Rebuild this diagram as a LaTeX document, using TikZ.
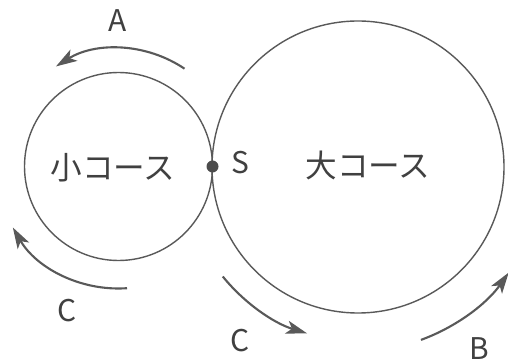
\documentclass[tikz,border=0pt]{standalone}
\usepackage{fontspec}
\setmainfont{Noto Sans CJK JP}
\usetikzlibrary{arrows.meta, positioning}

\begin{document}
\begin{tikzpicture}[
  x=0.02cm, y=0.02cm,
  course/.style={draw=black!65, line width=0.8pt},
  arr/.style={-{Stealth[length=12pt, width=7.5pt, inset=3pt]}, draw=black!65, line width=1.2pt},
  lbl/.style={text=black!75, font=\fontsize{17}{17}\selectfont, inner sep=0pt},
  jlbl/.style={text=black!75, font=\fontsize{18}{18}\selectfont, inner sep=0pt}
]
  \useasboundingbox (0,0) rectangle (508,362);

  % Courses
  \coordinate (sc) at (118.5,195.5);
  \coordinate (bc) at (358,195);
  \draw[course] (sc) circle[radius=94];
  \draw[course] (bc) circle[radius=146];

  % Start point
  \fill[black!70] (212.5,195.5) circle[radius=6] coordinate (s);
  \node[lbl, right=16pt of s, anchor=center, yshift=2pt] (slbl) {S};

  % Course names
  \node[jlbl] (small) at (113,194) {小コース};
  \node[jlbl] (big)   at (368,197) {大コース};

  % Direction arrows
  \draw[arr] ([shift={(56:118)}]sc) arc[start angle=56, end angle=122, radius=118];
  \draw[arr] ([shift={(274:122)}]sc) arc[start angle=274, end angle=210, radius=122];
  \draw[arr] ([shift={(219:174)}]bc) arc[start angle=219, end angle=253, radius=174];
  \draw[arr] ([shift={(290:184)}]bc) arc[start angle=290, end angle=325, radius=184];

  \node[lbl] (a)  at (118,341) {A};
  \node[lbl] (c1) at (67,51)   {C};
  \node[lbl] (c2) at (240,21)  {C};
  \node[lbl] (b)  at (479,13)  {B};
\end{tikzpicture}
\end{document}
